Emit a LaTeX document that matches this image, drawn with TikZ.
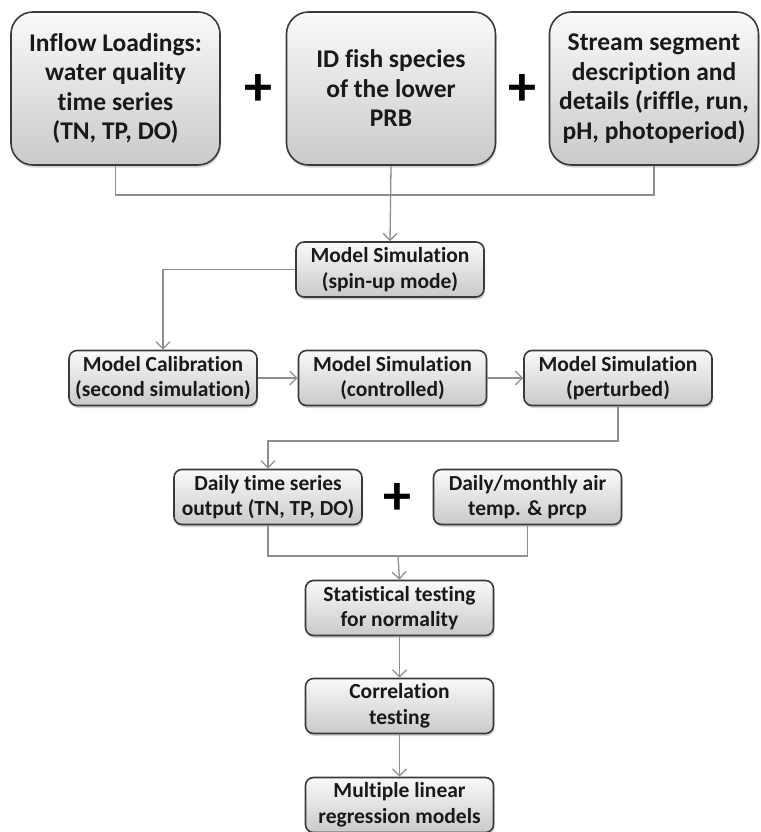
\documentclass[tikz,border=0pt]{standalone}
\usepackage{fontspec}
\setmainfont{Carlito}[Ligatures=NoCommon]
\usetikzlibrary{arrows.meta,shadows}
\definecolor{boxline}{HTML}{3A3A3A}
\definecolor{linkgray}{HTML}{8E8E8E}
\begin{document}
\begin{tikzpicture}[x=1pt,y=-1pt,
        box/.style={draw=boxline,line width=1.6pt,rounded corners=8pt,
            top color=gray!4,bottom color=gray!42,
            drop shadow={shadow xshift=1pt,shadow yshift=-2.5pt,opacity=0.35},
            align=center,inner sep=0pt,text=black!90,
            minimum width=188pt,minimum height=55pt,
            font=\fontsize{21.5}{25.5}\selectfont\bfseries},
        bigbox/.style={box,rounded corners=22pt,minimum width=209pt,minimum height=153pt,
            font=\fontsize{25.5}{29.5}\selectfont\bfseries},
        plus/.style={font=\fontsize{56}{56}\selectfont\bfseries,inner sep=0pt},
        link/.style={draw=linkgray,line width=1.3pt},
        arrow/.style={link,-{Straight Barb[length=7pt,width=14pt]}}]
    \useasboundingbox (0,0) rectangle (760,832);
    % inputs
    \node[bigbox] (inflow) at (115.5,88.5) {Inflow Loadings:\\ water quality\\ time series\\ (TN, TP, DO)};
    \node[bigbox] (fish) at (391,88.5) {ID fish species\\ of the lower\\ PRB};
    \node[bigbox] (stream) at (654,88.5) {Stream segment\\ description and\\ details (riffle, run,\\ pH, photoperiod)};
    \node[plus] (plusa) at (258,90) {+};
    \node[plus] (plusb) at (522,90) {+};
    % simulation runs
    \node[box] (spinup) at (390,269.5) {Model Simulation\\ (spin-up mode)};
    \node[box] (calib) at (163,378) {Model Calibration\\ (second simulation)};
    \node[box] (control) at (392.5,378) {Model Simulation\\ (controlled)};
    \node[box] (perturb) at (618,378) {Model Simulation\\ (perturbed)};
    % outputs
    \node[box] (daily) at (268,497) {Daily time series\\ output (TN, TP, DO)};
    \node[plus] (plusc) at (397,499) {+};
    \node[box] (airtemp) at (527.5,497) {Daily/monthly air\\ temp. \& prcp};
    % statistics
    \node[box] (normal) at (399.5,608) {Statistical testing\\ for normality};
    \node[box] (correl) at (399.5,706) {Correlation\\ testing};
    \node[box] (mlr) at (399.5,805) {Multiple linear\\ regression models};
    % connectors
    \coordinate (joina) at (391,195);
    \coordinate (joinb) at (618,441);
    \coordinate (joinc) at (398,556);
    \draw[link] (inflow.south) |- (joina) -| (stream.south);
    \draw[arrow] (fish.south) -- (spinup.north);
    \draw[arrow] (spinup.west) -| (calib.north);
    \draw[arrow] (calib.east) -- (control.west);
    \draw[arrow] (control.east) -- (perturb.west);
    \draw[arrow] (perturb.south) -- (joinb) -| (daily.north);
    \draw[link] (daily.south) |- (joinc) -| (airtemp.south);
    \draw[arrow] (joinc) -- (normal.north);
    \draw[arrow] (normal.south) -- (correl.north);
    \draw[arrow] (correl.south) -- (mlr.north);
\end{tikzpicture}
\end{document}
